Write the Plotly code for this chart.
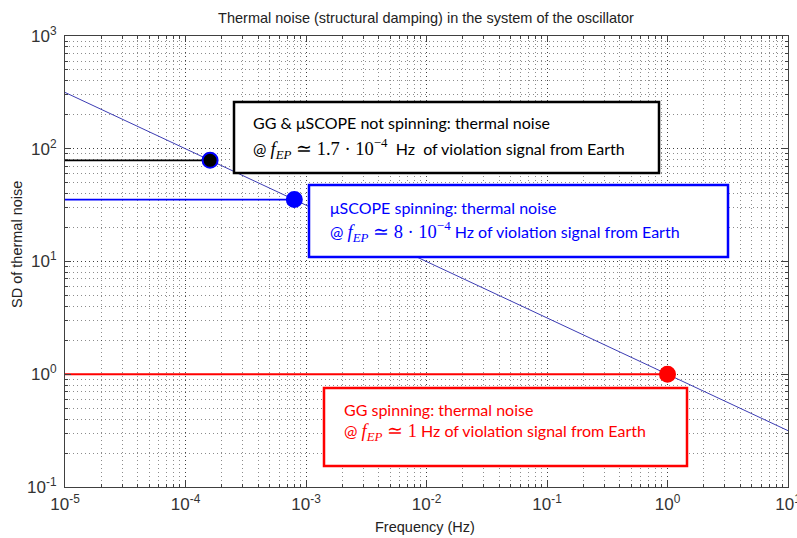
import plotly.graph_objects as go

# ---- data ----
curve_f = [1e-5, 10.0]            # Hz
curve_sd = [316.0, 0.316]         # SD of thermal noise
pt_f = [1.6e-4, 8e-4, 1.0]
pt_sd = [79.0, 35.4, 1.0]
pt_colors = ["black", "#0000ff", "#ff0000"]
pt_edge = ["#0000ff", "#0000ff", "#ff0000"]
hline_colors = ["black", "#0000ff", "#ff0000"]
x_min = 1e-5

x_tickvals = [1e-5, 1e-4, 1e-3, 1e-2, 1e-1, 1e0, 1e1]
x_ticktext = ["10<sup>-5</sup>", "10<sup>-4</sup>", "10<sup>-3</sup>", "10<sup>-2</sup>",
              "10<sup>-1</sup>", "10<sup>0</sup>", "10<sup>1</sup>"]
y_tickvals = [1e-1, 1e0, 1e1, 1e2, 1e3]
y_ticktext = ["10<sup>-1</sup>", "10<sup>0</sup>", "10<sup>1</sup>", "10<sup>2</sup>", "10<sup>3</sup>"]

title_text = "Thermal noise (structural damping) in the system of the oscillator"
xlabel = "Frequency (Hz)"
ylabel = "SD of thermal noise"

M0 = "<span style='font-family:Liberation Serif;font-size:18.5px'>"
M1 = "</span>"
box_lines = [
    ["GG &amp; \u03bcSCOPE not spinning: thermal noise",
     "@ " + M0 + "<i>f</i><sub><i>EP</i></sub> \u2243 1.7 \u00b7 10<sup>\u22124</sup>" + M1
     + "\u00a0\u00a0Hz \u00a0of violation signal from Earth"],
    ["\u03bcSCOPE spinning: thermal noise",
     "@ " + M0 + "<i>f</i><sub><i>EP</i></sub> \u2243 8 \u00b7 10<sup>\u22124</sup>" + M1
     + " Hz of violation signal from Earth"],
    ["GG spinning: thermal noise",
     "@ " + M0 + "<i>f</i><sub><i>EP</i></sub> \u2243 1" + M1
     + " Hz of violation signal from Earth"],
]
box_colors = ["black", "#0000ff", "#ff0000"]
text_colors = ["black", "#0000ff", "#ff0000"]

# ---- layout geometry (pixels) ----
W, H = 797, 538
L, R, T, B = 65, 788, 36, 487


def px2x(px):
    return (px - L) / (R - L)


def px2y(py):
    return (B - py) / (B - T)


box_px = [(234, 102, 659, 173), (309, 185, 728, 257), (324, 388, 687, 466)]
text_px = [(251, 123, 148), (328, 207, 231), (342, 409, 432)]

fig = go.Figure()

# horizontal lines to the markers
for f, s, c in zip(pt_f, pt_sd, hline_colors):
    fig.add_trace(go.Scatter(x=[x_min, f], y=[s, s], mode="lines",
                             line=dict(color=c, width=1.8), showlegend=False,
                             hoverinfo="skip"))

# thermal noise curve
fig.add_trace(go.Scatter(x=curve_f, y=curve_sd, mode="lines",
                         line=dict(color="#3c3cb4", width=1), showlegend=False))

# markers
fig.add_trace(go.Scatter(x=pt_f, y=pt_sd, mode="markers",
                         marker=dict(size=15, color=pt_colors,
                                     line=dict(color=pt_edge, width=2)),
                         showlegend=False))

# boxes
for (x0, y0, x1, y1), c in zip(box_px, box_colors):
    fig.add_shape(type="rect", xref="paper", yref="paper",
                  x0=px2x(x0), x1=px2x(x1), y0=px2y(y0), y1=px2y(y1),
                  line=dict(color=c, width=2.5), fillcolor="white", layer="above")

for lines, (tx, ty1, ty2), c in zip(box_lines, text_px, text_colors):
    for txt, ty in zip(lines, (ty1, ty2)):
        fig.add_annotation(text=txt, xref="paper", yref="paper",
                           x=px2x(tx), y=px2y(ty), xanchor="left", yanchor="middle",
                           showarrow=False,
                           font=dict(family="Lato", size=16, color=c))

# axis labels as annotations
fig.add_annotation(text=xlabel, xref="paper", yref="paper", x=px2x(425), y=px2y(527),
                   xanchor="center", yanchor="middle", showarrow=False,
                   font=dict(family="Liberation Sans", size=14.5, color="#222"))
fig.add_annotation(text=ylabel, xref="paper", yref="paper", x=px2x(17), y=px2y(245),
                   xanchor="center", yanchor="middle", showarrow=False, textangle=-90,
                   font=dict(family="Liberation Sans", size=14.5, color="#222"))

grid = dict(showgrid=True, gridcolor="rgba(0,0,0,0.55)", griddash="1px,3px", gridwidth=1)
minor = dict(ticks="inside", ticklen=3, tickcolor="#404040", dtick="D1",
             showgrid=True, gridcolor="rgba(0,0,0,0.45)", griddash="1px,3px", gridwidth=1)
axis_common = dict(type="log", tickmode="array", automargin=False,
                   ticks="inside", ticklen=6, tickcolor="#404040",
                   showline=True, linecolor="#404040", linewidth=1, mirror="ticks",
                   zeroline=False, ticklabeloverflow="allow",
                   tickfont=dict(family="Liberation Sans", size=17, color="#333"),
                   minor=minor, **grid)

fig.update_layout(
    width=W, height=H,
    margin=dict(l=L, r=W - R, t=T, b=H - B, autoexpand=False),
    paper_bgcolor="white", plot_bgcolor="white",
    title=dict(text=title_text, x=px2x(426), xref="paper", xanchor="center",
               y=1 - 18 / H, yanchor="middle",
               font=dict(family="Liberation Sans", size=14.5, color="#222")),
    xaxis=dict(range=[-5, 1], tickvals=x_tickvals, ticktext=x_ticktext,
               ticklabelstandoff=2, **axis_common),
    yaxis=dict(range=[-1, 3], tickvals=y_tickvals, ticktext=y_ticktext,
               ticklabelstandoff=4, **axis_common),
    showlegend=False,
)

fig.write_html("out.html")
